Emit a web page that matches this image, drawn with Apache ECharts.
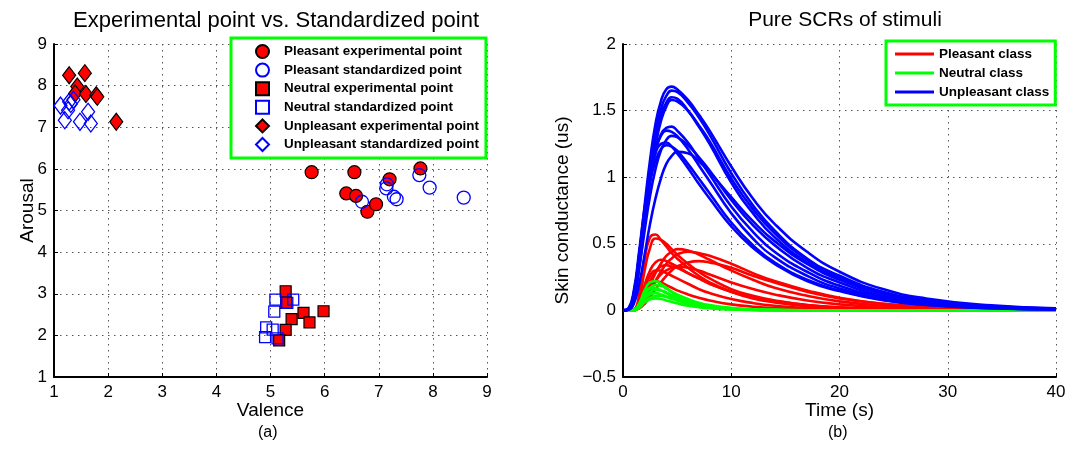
<!DOCTYPE html>
<html>
<head>
<meta charset="utf-8">
<script src="https://cdn.jsdelivr.net/npm/echarts@6/dist/echarts.min.js"></script>
<style>
html,body{margin:0;padding:0;background:#fff;}
#chart{width:1081px;height:452px;}
</style>
</head>
<body>
<div id="chart"></div>
<script>
// ---------- Left panel data (valence, arousal) ----------
const pleasantExp = [[5.76,5.92],[6.55,5.92],[6.40,5.41],[6.58,5.35],[6.79,4.97],[6.95,5.15],[7.20,5.75],[7.77,6.01]];
const pleasantStd = [[6.69,5.21],[7.15,5.63],[7.14,5.53],[7.28,5.33],[7.33,5.27],[7.75,5.85],[7.94,5.55],[8.57,5.31]];
const neutralExp = [[5.28,3.06],[5.29,2.78],[5.61,2.54],[5.98,2.58],[5.39,2.39],[5.72,2.31],[5.28,2.13],[5.16,1.88]];
const neutralStd = [[5.09,2.86],[5.42,2.86],[5.31,2.78],[5.07,2.57],[4.92,2.19],[5.04,2.14],[4.90,1.96],[5.13,1.93]];
const unpleasantExp = [[1.28,8.25],[1.57,8.30],[1.43,7.98],[1.39,7.81],[1.59,7.80],[1.78,7.77],[1.80,7.73],[2.15,7.13]];
const unpleasantStd = [[1.12,7.52],[1.20,7.17],[1.28,7.61],[1.31,7.56],[1.36,7.66],[1.26,7.41],[1.48,7.13],[1.63,7.37],[1.68,7.09]];
const scatterLegend = ['Pleasant experimental point','Pleasant standardized point','Neutral experimental point','Neutral standardized point','Unpleasant experimental point','Unpleasant standardized point'];

// ---------- Right panel data (time in s, skin conductance in us) ----------
const timeS = [0,0.5,1,1.5,2,2.5,3,3.5,4,4.5,5,6,7,8,10,12,14,17,20,24,28,34,40];
const pleasantCurves = [
  [0,0,0.005,0.12,0.38,0.55,0.57,0.53,0.48,0.43,0.39,0.32,0.26,0.21,0.14,0.09,0.06,0.032,0.017,0.007,0.003,0.001,0],
  [0,0,0.004,0.09,0.30,0.47,0.54,0.53,0.50,0.46,0.42,0.35,0.29,0.24,0.16,0.11,0.075,0.04,0.022,0.01,0.005,0.002,0.001],
  [0,0,0.002,0.03,0.10,0.19,0.28,0.35,0.41,0.44,0.46,0.45,0.42,0.38,0.30,0.23,0.17,0.11,0.068,0.035,0.018,0.007,0.003],
  [0,0,0.001,0.02,0.07,0.14,0.22,0.29,0.35,0.39,0.42,0.44,0.43,0.41,0.35,0.28,0.22,0.15,0.095,0.05,0.027,0.011,0.004],
  [0,0,0.003,0.06,0.19,0.30,0.36,0.38,0.37,0.35,0.33,0.28,0.24,0.20,0.14,0.095,0.065,0.036,0.02,0.009,0.004,0.001,0],
  [0,0,0.001,0.015,0.05,0.10,0.16,0.21,0.26,0.30,0.33,0.36,0.37,0.36,0.32,0.26,0.21,0.14,0.09,0.05,0.027,0.011,0.004],
  [0,0,0.002,0.04,0.13,0.22,0.29,0.33,0.34,0.33,0.32,0.28,0.24,0.20,0.14,0.10,0.07,0.04,0.022,0.01,0.005,0.002,0],
  [0,0,0.001,0.03,0.09,0.16,0.22,0.27,0.30,0.32,0.33,0.32,0.30,0.27,0.21,0.16,0.12,0.075,0.045,0.022,0.011,0.004,0.001],
  [0,0,0.003,0.06,0.17,0.26,0.30,0.30,0.28,0.26,0.24,0.20,0.16,0.13,0.085,0.055,0.035,0.018,0.009,0.004,0.002,0,0],
  [0,0,0.003,0.05,0.14,0.20,0.22,0.21,0.19,0.17,0.15,0.12,0.095,0.075,0.045,0.028,0.017,0.008,0.004,0.002,0.001,0,0]
];
const neutralCurves = [
  [0,0,0.003,0.05,0.15,0.21,0.22,0.20,0.17,0.14,0.115,0.075,0.05,0.033,0.015,0.007,0.003,0.001,0,0,0,0,0],
  [0,0,0.002,0.04,0.12,0.17,0.19,0.185,0.165,0.14,0.12,0.085,0.058,0.04,0.019,0.009,0.004,0.001,0,0,0,0,0],
  [0,0,0.003,0.05,0.13,0.165,0.165,0.15,0.13,0.105,0.085,0.055,0.035,0.022,0.009,0.004,0.002,0,0,0,0,0,0],
  [0,0,0.002,0.03,0.10,0.14,0.155,0.15,0.135,0.115,0.097,0.068,0.046,0.031,0.014,0.006,0.003,0.001,0,0,0,0,0],
  [0,0,0.002,0.03,0.09,0.12,0.13,0.12,0.105,0.09,0.075,0.05,0.034,0.022,0.01,0.004,0.002,0,0,0,0,0,0],
  [0,0,0.001,0.02,0.065,0.095,0.108,0.11,0.10,0.09,0.078,0.055,0.038,0.026,0.012,0.005,0.002,0,0,0,0,0,0],
  [0,0,0.001,0.02,0.06,0.083,0.09,0.085,0.075,0.064,0.053,0.036,0.024,0.016,0.007,0.003,0.001,0,0,0,0,0,0]
];
const unpleasantCurves = [
  [0,0.01,0.12,0.42,0.79,1.13,1.40,1.57,1.66,1.68,1.66,1.58,1.47,1.35,1.08,0.84,0.65,0.44,0.29,0.16,0.09,0.038,0.016],
  [0,0.008,0.10,0.37,0.72,1.05,1.32,1.51,1.61,1.65,1.64,1.56,1.45,1.32,1.03,0.79,0.60,0.39,0.26,0.14,0.078,0.032,0.013],
  [0,0.008,0.10,0.36,0.70,1.02,1.28,1.46,1.56,1.60,1.59,1.50,1.38,1.25,0.96,0.73,0.55,0.36,0.235,0.13,0.07,0.029,0.012],
  [0,0.006,0.08,0.32,0.65,0.97,1.23,1.42,1.53,1.58,1.57,1.50,1.39,1.27,0.99,0.76,0.58,0.38,0.245,0.135,0.073,0.03,0.012],
  [0,0.01,0.11,0.38,0.70,0.98,1.19,1.32,1.37,1.38,1.35,1.26,1.14,1.02,0.78,0.59,0.44,0.29,0.185,0.10,0.055,0.022,0.009],
  [0,0.012,0.13,0.42,0.74,1.01,1.20,1.31,1.35,1.34,1.31,1.21,1.09,0.97,0.73,0.54,0.40,0.26,0.165,0.09,0.048,0.019,0.008],
  [0,0.008,0.09,0.32,0.60,0.86,1.06,1.20,1.28,1.31,1.30,1.24,1.15,1.05,0.83,0.64,0.49,0.32,0.21,0.11,0.06,0.024,0.01],
  [0,0.015,0.15,0.45,0.77,1.02,1.18,1.25,1.26,1.23,1.18,1.07,0.95,0.84,0.63,0.47,0.35,0.22,0.145,0.077,0.041,0.016,0.007],
  [0,0.012,0.13,0.41,0.71,0.96,1.12,1.21,1.24,1.23,1.20,1.10,0.99,0.88,0.66,0.49,0.36,0.23,0.15,0.08,0.043,0.017,0.007],
  [0,0.005,0.05,0.20,0.42,0.65,0.84,0.99,1.10,1.16,1.19,1.18,1.12,1.04,0.85,0.67,0.52,0.35,0.23,0.125,0.068,0.028,0.011]
];
const curveLegend = ['Pleasant class','Neutral class','Unpleasant class'];

const FONT = '"Liberation Sans", Arial, sans-serif';
const RED = '#ff0000', GREEN = '#00ff00', BLUE = '#0000ff';

function axisCommon(extra) {
  return Object.assign({
    type: 'value',
    axisLine: { show: true, onZero: false, lineStyle: { color: '#000', width: 2 } },
    axisTick: { show: true, inside: true, length: 4, lineStyle: { color: '#000', width: 1 } },
    axisLabel: { color: '#000', fontSize: 17, fontFamily: FONT, margin: 7,
      formatter: function (v) { return String(v).replace('-', '\u2212'); } },
    splitLine: { show: true, lineStyle: { color: '#555', width: 1, type: [1.5, 4.5] } },
    nameTextStyle: { color: '#000', fontSize: 19, fontFamily: FONT },
    nameLocation: 'middle',
    nameMoveOverlap: false
  }, extra);
}

const series = [];
function scat(name, data, symbol, size, filled) {
  series.push({
    name: name, type: 'scatter', xAxisIndex: 0, yAxisIndex: 0,
    symbol: symbol, symbolSize: size, data: data,
    itemStyle: filled
      ? { color: RED, borderColor: '#000', borderWidth: 1.2, opacity: 1 }
      : { color: 'rgba(255,255,255,0)', borderColor: BLUE, borderWidth: 1.3, opacity: 1 },
    emphasis: { disabled: true }
  });
}
scat(scatterLegend[0], pleasantExp, 'circle', 13, true);
scat(scatterLegend[1], pleasantStd, 'circle', 13, false);
scat(scatterLegend[2], neutralExp, 'rect', 11, true);
scat(scatterLegend[3], neutralStd, 'rect', 11, false);
scat(scatterLegend[4], unpleasantExp, 'diamond', [13, 17], true);
scat(scatterLegend[5], unpleasantStd, 'diamond', [13, 17], false);

function curves(name, arr, color) {
  arr.forEach(function (vals) {
    series.push({
      name: name, type: 'line', xAxisIndex: 1, yAxisIndex: 1,
      data: timeS.map(function (t, i) { return [t, vals[i]]; }),
      showSymbol: false, smooth: 0.5,
      lineStyle: { color: color, width: 2.6 },
      itemStyle: { color: color },
      emphasis: { disabled: true }
    });
  });
}
curves(curveLegend[0], pleasantCurves, RED);
curves(curveLegend[1], neutralCurves, GREEN);
curves(curveLegend[2], unpleasantCurves, BLUE);

const chart = echarts.init(document.getElementById('chart'), null, { renderer: 'canvas' });
chart.setOption({
  animation: false,
  backgroundColor: '#fff',
  textStyle: { fontFamily: FONT },
  title: [
    { text: 'Experimental point vs. Standardized point', left: 271, top: 5, textAlign: 'center',
      textStyle: { fontSize: 22, fontWeight: 'normal', color: '#000', fontFamily: FONT } },
    { text: 'Pure SCRs of stimuli', left: 840, top: 5, textAlign: 'center',
      textStyle: { fontSize: 21, fontWeight: 'normal', color: '#000', fontFamily: FONT } }
  ],
  grid: [
    { left: 54, top: 44, width: 433, height: 333 },
    { left: 623, top: 44, width: 433, height: 333 }
  ],
  xAxis: [
    axisCommon({ gridIndex: 0, min: 1, max: 9, interval: 1, name: 'Valence', nameGap: 24 }),
    axisCommon({ gridIndex: 1, min: 0, max: 40, interval: 10, name: 'Time (s)', nameGap: 24 })
  ],
  yAxis: [
    axisCommon({ gridIndex: 0, min: 1, max: 9, interval: 1, name: 'Arousal', nameGap: 17 }),
    axisCommon({ gridIndex: 1, min: -0.5, max: 2, interval: 0.5, name: 'Skin conductance (us)', nameGap: 51 })
  ],
  legend: [
    {
      data: scatterLegend, orient: 'vertical', left: 231, top: 38,
      itemWidth: 13, itemHeight: 13, itemGap: 3.6,
      padding: [6, 7, 6, 24],
      borderColor: GREEN, borderWidth: 3, backgroundColor: '#fff',
      textStyle: { fontSize: 13.4, lineHeight: 14, fontWeight: 'bold', color: '#000', fontFamily: FONT, padding: [0, 0, 0, 10] },
      selectedMode: false
    },
    {
      data: curveLegend, orient: 'vertical', left: 886, top: 41,
      icon: 'rect', itemWidth: 39, itemHeight: 3, itemGap: 5,
      padding: [6, 6, 6, 9],
      borderColor: GREEN, borderWidth: 3, backgroundColor: '#fff',
      textStyle: { fontSize: 13.5, lineHeight: 14, fontWeight: 'bold', color: '#000', fontFamily: FONT },
      selectedMode: false
    }
  ],
  graphic: [
    { type: 'text', left: 258, top: 425, style: { text: '(a)', font: '16px ' + FONT, fill: '#000' } },
    { type: 'text', left: 828, top: 425, style: { text: '(b)', font: '16px ' + FONT, fill: '#000' } }
  ],
  series: series
});
</script>
</body>
</html>
